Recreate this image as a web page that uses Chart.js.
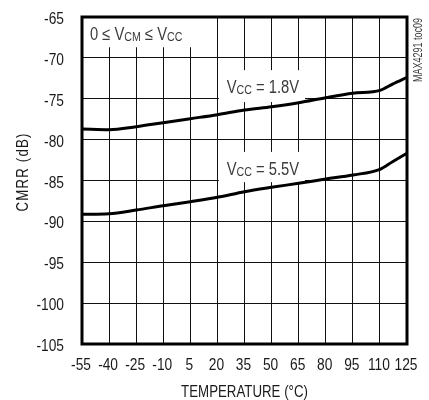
<!DOCTYPE html>
<html><head><meta charset="utf-8">
<script src="https://cdn.jsdelivr.net/npm/chart.js@4.4.1/dist/chart.umd.min.js"></script>
<style>html,body{margin:0;padding:0;background:#fff;}canvas{display:block;}</style>
</head><body>
<canvas id="c" width="429" height="400"></canvas>
<script>
const temperatures = [-55, -40, -25, -10, 5, 20, 35, 50, 65, 80, 95, 110, 117, 125];
const cmrrVcc18 = [-78.70, -78.79, -78.42, -77.93, -77.44, -76.95, -76.38, -75.97, -75.48, -74.87, -74.33, -73.97, -73.20, -72.38];
const cmrrVcc55 = [-89.13, -89.06, -88.61, -88.08, -87.59, -87.06, -86.37, -85.83, -85.34, -84.82, -84.33, -83.63, -82.70, -81.67];
const xTicks = [-55, -40, -25, -10, 5, 20, 35, 50, 65, 80, 95, 110, 125];
const yTicks = [-105, -100, -95, -90, -85, -80, -75, -70, -65];
const xTitle = 'TEMPERATURE (°C)';
const yTitle = 'CMRR (dB)';
const noteText = 'MAX4291 toc09';

const FONT = "'Liberation Sans', Arial, sans-serif";
const INK = '#1a1a1a';
const LABEL_INK = '#3c3c3c';

function toPts(xs, ys) { return xs.map((x, i) => ({ x: x, y: ys[i] })); }

// draws horizontally condensed text (Helvetica Condensed look)
function narrowText(ctx, text, x, y, size, squeeze, align, baseline, spacing) {
  ctx.save();
  ctx.font = size + 'px ' + FONT;
  ctx.textAlign = align; ctx.textBaseline = baseline;
  if (spacing) ctx.letterSpacing = spacing + 'px';
  ctx.translate(x, y); ctx.scale(squeeze, 1);
  ctx.fillText(text, 0, 0);
  const w = ctx.measureText(text).width * squeeze;
  ctx.restore();
  return w;
}
function richText(ctx, x, y, parts, squeeze) {
  for (const p of parts) x += narrowText(ctx, p[0], x, y + p[2], p[1], squeeze, 'left', 'alphabetic');
}

// annotation boxes & texts, positioned in data units
const annos = [
  { box: [-55, 9, -65, -68.7], at: [-50.6, -67.8],
    parts: [['0 \u2264 V', 18, 0], ['CM', 13, 1], [' \u2264 V', 18, 0], ['CC', 13, 1]] },
  { box: [20.8, 68.5, -71.5, -75.4], at: [25.1, -74.35],
    parts: [['V', 18, 0], ['CC', 13, 1], [' = 1.8V', 18, 0]] },
  { box: [20.8, 68.5, -81.5, -85.2], at: [25.1, -84.3],
    parts: [['V', 18, 0], ['CC', 13, 1], [' = 5.5V', 18, 0]] }
];

const decor = {
  id: 'decor',
  beforeDraw(chart) {
    const ctx = chart.ctx;
    ctx.save(); ctx.fillStyle = '#fff'; ctx.fillRect(0, 0, chart.width, chart.height); ctx.restore();
  },
  beforeDatasetsDraw(chart) {
    const ctx = chart.ctx, xs = chart.scales.x, ys = chart.scales.y;
    ctx.save();
    for (const a of annos) {
      const x0 = xs.getPixelForValue(a.box[0]), x1 = xs.getPixelForValue(a.box[1]);
      const y0 = ys.getPixelForValue(a.box[2]), y1 = ys.getPixelForValue(a.box[3]);
      ctx.fillStyle = '#fff';
      ctx.fillRect(x0, y0, x1 - x0, y1 - y0);
      ctx.fillStyle = LABEL_INK;
      richText(ctx, xs.getPixelForValue(a.at[0]), ys.getPixelForValue(a.at[1]), a.parts, 0.82);
    }
    ctx.restore();
  },
  afterDatasetsDraw(chart) {
    const ctx = chart.ctx, ca = chart.chartArea, xs = chart.scales.x, ys = chart.scales.y;
    ctx.save();
    ctx.strokeStyle = '#000'; ctx.lineWidth = 3;
    ctx.strokeRect(ca.left, ca.top, ca.right - ca.left, ca.bottom - ca.top);
    ctx.fillStyle = INK;
    // tick labels from the library's scale ticks
    for (const t of xs.ticks) narrowText(ctx, String(t.value), xs.getPixelForValue(t.value) - 1, ca.bottom + 25.5, 16, 0.86, 'center', 'alphabetic');
    for (const t of ys.ticks) narrowText(ctx, String(t.value), ca.left - 18, ys.getPixelForValue(t.value) + 7, 16, 0.86, 'right', 'alphabetic');
    // axis titles
    narrowText(ctx, xTitle, (ca.left + ca.right) / 2, 397, 16, 0.83, 'center', 'alphabetic');
    ctx.save(); ctx.translate(27.5, 172); ctx.rotate(-Math.PI / 2);
    narrowText(ctx, yTitle, 0, 0, 16, 0.83, 'center', 'alphabetic', 1.4);
    ctx.restore();
    ctx.fillStyle = LABEL_INK;
    ctx.save(); ctx.translate(422, 50); ctx.rotate(-Math.PI / 2);
    narrowText(ctx, noteText, 0, 0, 12, 0.75, 'center', 'alphabetic');
    ctx.restore();
    ctx.restore();
  }
};

new Chart(document.getElementById('c'), {
  type: 'scatter',
  data: {
    datasets: [
      { label: 'VCC = 1.8V', data: toPts(temperatures, cmrrVcc18) },
      { label: 'VCC = 5.5V', data: toPts(temperatures, cmrrVcc55) }
    ].map(d => Object.assign(d, { showLine: true, borderColor: '#000', borderWidth: 3, pointRadius: 0, cubicInterpolationMode: 'monotone', fill: false }))
  },
  options: {
    responsive: false, animation: false, devicePixelRatio: 1,
    layout: { padding: { left: 0, top: 17, right: 22, bottom: 0 } },
    plugins: { legend: { display: false }, tooltip: { enabled: false } },
    scales: {
      x: {
        type: 'linear', min: -55, max: 125,
        afterBuildTicks: s => { s.ticks = xTicks.map(v => ({ value: v })); },
        afterFit: s => { s.height = 56; },
        grid: { color: '#111', lineWidth: 1, drawTicks: false },
        border: { display: false },
        ticks: { display: false }
      },
      y: {
        type: 'linear', min: -105, max: -65,
        afterBuildTicks: s => { s.ticks = yTicks.map(v => ({ value: v })); },
        afterFit: s => { s.width = 82; },
        grid: { color: '#111', lineWidth: 1, drawTicks: false },
        border: { display: false },
        ticks: { display: false }
      }
    }
  },
  plugins: [decor]
});
</script>
</body></html>
